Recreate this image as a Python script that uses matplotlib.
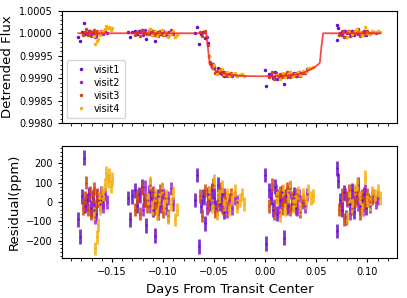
import numpy as np
import matplotlib
matplotlib.use('Agg')
import matplotlib.pyplot as plt
from matplotlib.ticker import AutoMinorLocator, MultipleLocator

# transit model (days, ppm below 1)
model_t = [-0.1830, -0.0578, -0.0560, -0.0545, -0.0535, -0.0520, -0.0480, -0.0425, -0.0350,
           -0.0260, -0.0150, -0.0030, 0.0100, 0.0200, 0.0290, 0.0360, 0.0420, 0.0480,
           0.0520, 0.0535, 0.0550, 0.0567, 0.1125]
model_ppm = [0, 0, -350, -650, -720, -775, -840, -884, -920,
             -943, -952, -955, -950, -940, -921, -890, -832, -760,
             -690, -650, -300, 0, 0]

# visit1
t1 = [-0.1830, -0.1812, -0.1795, -0.1778, -0.1760, -0.1742, -0.1725, -0.1708, -0.1690, -0.1672, -0.1655, -0.1637, -0.1620, -0.1602, -0.1585,
      -0.1345, -0.1322, -0.1300, -0.1278, -0.1255, -0.1232, -0.1210, -0.1188, -0.1165, -0.1142, -0.1120, -0.1098, -0.1075, -0.1052, -0.1030, -0.1008,
      -0.0685, -0.0665, -0.0645, -0.0625, -0.0605, -0.0585, -0.0565, -0.0545, -0.0525, -0.0505, -0.0485, -0.0465, -0.0445, -0.0425, -0.0405,
      0.0000, 0.0005, 0.0040, 0.0060, 0.0080, 0.0100, 0.0120, 0.0140, 0.0160, 0.0186, 0.0205, 0.0225, 0.0245, 0.0265, 0.0285, 0.0305,
      0.0700, 0.0705, 0.0712, 0.0730, 0.0750, 0.0770, 0.0790, 0.0810, 0.0830, 0.0850, 0.0870, 0.0890, 0.0910, 0.0930, 0.0950, 0.0970, 0.0990]
f1 = [-90, -180, 30, 230, -20, 10, 40, -30, 20, -40, -60, 10, -10, 30, 0,
      20, -90, 30, 60, -20, 40, 80, 10, -120, 50, 20, -40, -175, 30, -20, 60,
      10, 140, -230, -20, 30, -110, -210, -660, -690, -780, -863, -765, -882, -844, -943,
      -815, -1170, -894, -933, -992, -870, -1008, -936, -894, -1126, -909, -955, -861, -936, -880, -948,
      175, -150, 110, 10, -40, 50, -80, 20, -10, 60, -50, 30, 90, -20, 10, 40, -30]
r1 = [-90, -180, 30, 230, -20, 10, 40, -30, 20, -40, -60, 10, -10, 30, 0,
      20, -90, 30, 60, -20, 40, 80, 10, -120, 50, 20, -40, -175, 30, -20, 60,
      10, 140, -230, -20, 30, -110, 40, -10, 60, 20, -30, 90, -10, 40, -50,
      140, -215, 60, 20, -40, 80, -60, 10, 50, -185, 30, -20, 70, -10, 40, -30,
      175, -150, 110, 10, -40, 50, -80, 20, -10, 60, -50, 30, 90, -20, 10, 40, -30]

# visit2
t2 = [-0.1745, -0.1725, -0.1705, -0.1685, -0.1665, -0.1645, -0.1625, -0.1605, -0.1585, -0.1565, -0.1545,
      -0.1225, -0.1200, -0.1175, -0.1150, -0.1125, -0.1100, -0.1075, -0.1050, -0.1025, -0.1000, -0.0975, -0.0950, -0.0925, -0.0900,
      -0.0600, -0.0575, -0.0550, -0.0525, -0.0500, -0.0475, -0.0450, -0.0425, -0.0400, -0.0375, -0.0350, -0.0325, -0.0300, -0.0275,
      0.0060, 0.0085, 0.0110, 0.0135, 0.0160, 0.0185, 0.0210, 0.0235, 0.0260, 0.0285, 0.0310, 0.0335, 0.0360, 0.0385, 0.0410,
      0.0755, 0.0780, 0.0805, 0.0830, 0.0855, 0.0880, 0.0905, 0.0930, 0.0955, 0.0980, 0.1005, 0.1030, 0.1055, 0.1080, 0.1105]
f2 = [-10, 40, -50, 20, -80, 30, 10, 50, -20, 40, 0,
      30, -40, 80, 10, -20, 50, 20, -60, 0, 40, -30, 20, 70, -10,
      20, -88, -500, -757, -748, -885, -834, -904, -857, -958, -910, -956, -913, -939,
      -913, -971, -889, -997, -934, -912, -968, -884, -939, -902, -952, -871, -890, -886, -802,
      -30, 40, 10, -60, 30, 50, -10, 20, -40, 60, 10, -20, 30, 0, 20]
r2 = [-10, 40, -50, 20, -80, 30, 10, 50, -20, 40, 0,
      30, -40, 80, 10, -20, 50, 20, -60, 0, 40, -30, 20, 70, -10,
      20, -30, 50, 0, 60, -40, 30, -20, 40, -50, 10, -30, 20, 0,
      40, -20, 60, -50, 10, 30, -30, 50, -10, 20, -40, 30, 0, -20, 40,
      -30, 40, 10, -60, 30, 50, -10, 20, -40, 60, 10, -20, 30, 0, 20]

# visit3
t3 = [-0.1780, -0.1765, -0.1750, -0.1735, -0.1720, -0.1705, -0.1690, -0.1675, -0.1660, -0.1645, -0.1630,
      -0.1280, -0.1255, -0.1230, -0.1205, -0.1180, -0.1155, -0.1130, -0.1105, -0.1080, -0.1055, -0.1030, -0.1005, -0.0980, -0.0955,
      -0.0640, -0.0615, -0.0590, -0.0565, -0.0540, -0.0515, -0.0490, -0.0465, -0.0440, -0.0415, -0.0390, -0.0365, -0.0340,
      0.0040, 0.0065, 0.0090, 0.0115, 0.0140, 0.0165, 0.0190, 0.0215, 0.0240, 0.0265, 0.0290, 0.0315, 0.0340, 0.0365,
      0.0725, 0.0750, 0.0775, 0.0800, 0.0825, 0.0850, 0.0875, 0.0900, 0.0925, 0.0950, 0.0975, 0.1000, 0.1025, 0.1050]
f3 = [-30, 20, 100, -40, 50, -60, 30, 70, -20, 40, 10,
      -40, 30, -60, 70, 10, -20, 90, 40, -30, 0, 60, -50, 20, -70,
      30, -70, 60, -270, -645, -693, -875, -841, -802, -918, -880, -923, -883,
      -974, -862, -1010, -919, -896, -973, -931, -867, -972, -906, -931, -872, -949, -876,
      -40, 40, -90, 20, 60, -30, 10, 50, -60, 30, -10, 40, 0, 20]
r3 = [-30, 20, 100, -40, 50, -60, 30, 70, -20, 40, 10,
      -40, 30, -60, 70, 10, -20, 90, 40, -30, 0, 60, -50, 20, -70,
      30, -70, 60, -20, 40, 90, -50, 10, 70, -30, 20, -10, 40,
      -20, 90, -60, 30, 50, -30, 10, 70, -40, 20, -10, 40, -50, 10,
      -40, 40, -90, 20, 60, -30, 10, 50, -60, 30, -10, 40, 0, 20]

# visit4
t4 = [-0.1680, -0.1665, -0.1650, -0.1640, -0.1630, -0.1615, -0.1600, -0.1585, -0.1570, -0.1555, -0.1540, -0.1525, -0.1510, -0.1500,
      -0.1150, -0.1128, -0.1105, -0.1083, -0.1060, -0.1038, -0.1015, -0.0993, -0.0970, -0.0948, -0.0925, -0.0903, -0.0880, -0.0862,
      -0.0550, -0.0525, -0.0500, -0.0475, -0.0450, -0.0425, -0.0400, -0.0375, -0.0350, -0.0325, -0.0300, -0.0275, -0.0250, -0.0225, -0.0210,
      0.0120, 0.0145, 0.0170, 0.0195, 0.0220, 0.0245, 0.0270, 0.0295, 0.0320, 0.0345, 0.0370, 0.0395, 0.0420, 0.0445, 0.0470,
      0.0800, 0.0825, 0.0850, 0.0875, 0.0900, 0.0925, 0.0950, 0.0975, 0.1000, 0.1025, 0.1050, 0.1075, 0.1100, 0.1125]
f4 = [-60, -240, -180, -120, 20, -30, 50, 30, 90, 150, 110, 140, 80, 120,
      20, 100, -30, 40, -60, 10, 70, -20, 30, -80, -10, 50, -90, -40,
      -500, -777, -698, -905, -834, -804, -907, -868, -960, -906, -873, -959, -934, -906, -957,
      -928, -1016, -883, -980, -906, -851, -945, -910, -858, -927, -842, -850, -772, -780, -742,
      -80, 30, -20, 60, 90, 20, -40, 130, 10, -10, 50, 30, 60, 20]
r4 = [-60, -240, -180, -120, 20, -30, 50, 30, 90, 150, 110, 140, 80, 120,
      20, 100, -30, 40, -60, 10, 70, -20, 30, -80, -10, 50, -90, -40,
      50, -20, 110, -60, 30, 80, -10, 40, -40, 20, 60, -20, 10, 40, -10,
      20, -70, 60, -40, 30, 80, -20, 10, 50, -30, 40, 0, 60, 20, 30,
      -80, 30, -20, 60, 90, 20, -40, 130, 10, -10, 50, 30, 60, 20]

errs = [38, 35, 35, 35]  # ppm
labels = ['visit1', 'visit2', 'visit3', 'visit4']
colors = ['#6410c8', '#a020d0', '#d2460a', '#f5b00a']

times = [t1, t2, t3, t4]
fluxes = [f1, f2, f3, f4]
resids = [r1, r2, r3, r4]

fig = plt.figure(figsize=(4.07, 2.98), dpi=100)
ax1 = fig.add_axes([0.1523, 0.5862, 0.8231, 0.3778])
ax2 = fig.add_axes([0.1523, 0.1342, 0.8231, 0.3758], sharex=ax1)

for t, f, r, e, c, lab in zip(times, fluxes, resids, errs, colors, labels):
    t = np.array(t)
    ax1.plot(t, 1 + np.array(f) * 1e-6, '.', color=c, ms=3, label=lab)
    ax2.errorbar(t, r, yerr=e, fmt='.', color=c, ms=1.5, elinewidth=2.0, alpha=0.85)

ax1.plot(model_t, 1 + np.array(model_ppm) * 1e-6, color='#ff1a1a', lw=1.3, alpha=0.8, zorder=5)

ax1.set_ylim(0.9980, 1.0005)
ax1.yaxis.set_major_locator(MultipleLocator(0.0005))
ax1.yaxis.set_major_formatter(plt.FormatStrFormatter('%.4f'))
ax1.set_ylabel('Detrended Flux', fontsize=9.5)
ax1.legend(loc='lower left', fontsize=7, handletextpad=0.3, borderpad=0.5, labelspacing=0.3)
plt.setp(ax1.get_xticklabels(), visible=False)

ax2.set_xlim(-0.199, 0.129)
ax2.set_ylim(-290, 290)
ax2.yaxis.set_major_locator(MultipleLocator(100))
ax2.xaxis.set_major_locator(MultipleLocator(0.05))
ax2.set_ylabel('Residual(ppm)', fontsize=9.5)
ax2.set_xlabel('Days From Transit Center', fontsize=9.5)

for ax in (ax1, ax2):
    ax.xaxis.set_minor_locator(AutoMinorLocator())
    ax.yaxis.set_minor_locator(AutoMinorLocator())
    ax.tick_params(labelsize=7, length=3, width=0.8)
    ax.tick_params(which='minor', length=1.8, width=0.6)

fig.savefig('out.png', dpi=100)
